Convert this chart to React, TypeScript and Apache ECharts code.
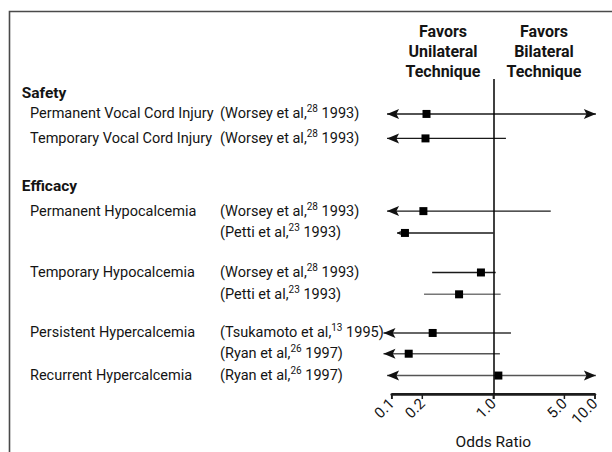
import React, { useEffect, useRef } from "react";
import * as echarts from "echarts";

// ---------- data ----------
const sectionHeaders = ["Safety", "Efficacy"];
const outcomes = [
  "Permanent Vocal Cord Injury",
  "Temporary Vocal Cord Injury",
  "Permanent Hypocalcemia",
  "",
  "Temporary Hypocalcemia",
  "",
  "Persistent Hypercalcemia",
  "",
  "Recurrent Hypercalcemia",
];
const studyAuthors = [
  "Worsey et al,",
  "Worsey et al,",
  "Worsey et al,",
  "Petti et al,",
  "Worsey et al,",
  "Petti et al,",
  "Tsukamoto et al,",
  "Ryan et al,",
  "Ryan et al,",
];
const studyRefs = ["28", "28", "28", "23", "28", "23", "13", "26", "26"];
const studyYears = ["1993", "1993", "1993", "1993", "1993", "1993", "1995", "1997", "1997"];
const oddsRatios = [0.22, 0.215, 0.205, 0.135, 0.755, 0.46, 0.253, 0.147, 1.12];
const ciLower = [0.09, 0.09, 0.09, 0.113, 0.25, 0.208, 0.083, 0.083, 0.09];
const ciUpper = [10.2, 1.33, 3.67, 1.0, 1.055, 1.18, 1.49, 1.16, 10.2];
const lowerArrow = ["full", "full", "full", "small", "", "", "full", "full", "full"];
const upperArrow = ["full", "", "", "", "", "", "", "", "full"];
const tickValues = [0.1, 0.2, 1, 5, 10];
const tickLabels = ["0.1", "0.2", "1.0", "5.0", "10.0"];
const favorsLeft = ["Favors", "Unilateral", "Technique"];
const favorsRight = ["Favors", "Bilateral", "Technique"];
const axisTitle = "Odds Ratio";

// ---------- layout / style ----------
const rowY = [0, 1.12, 4.45, 5.45, 7.26, 8.26, 10.03, 10.98, 11.98];
const headerY = [-0.95, 3.3];
const Y_MIN = -1.6;
const Y_MAX = 12.825;
const lineColors = ["#1a1a1a", "#1a1a1a", "#1a1a1a", "#1a1a1a", "#1a1a1a", "#777777", "#333333", "#555555", "#555555"];
const FONT = "Roboto, 'Liberation Sans', sans-serif";
const TEXT = "#141414";
const AXIS_COLOR = "#1c1c1c";

export default function App() {
  const ref = useRef<HTMLDivElement>(null);
  useEffect(() => {
    if (!ref.current) return;
    const chart = echarts.init(ref.current, undefined, { renderer: "svg" });
    const labelValues = [...headerY, ...rowY];

    const arrowHead = (tx: number, ty: number, dir: number, kind: string, color: string) => {
      const L = kind === "small" ? 4 : 12;
      const h = kind === "small" ? 4.5 : 10;
      return {
        type: "polygon",
        shape: {
          points: [
            [tx, ty],
            [tx + dir * L, ty - h / 2],
            [tx + dir * L * 0.78, ty],
            [tx + dir * L, ty + h / 2],
          ],
        },
        style: { fill: color },
      };
    };

    const option: any = {
      animation: false,
      textStyle: { fontFamily: FONT },
      grid: { left: 391.7, right: 17, top: 79, bottom: 58, outerBoundsMode: "none", containLabel: false },
      xAxis: {
        type: "log",
        position: "bottom",
        logBase: 10,
        min: 0.1,
        max: 10,
        name: axisTitle,
        nameLocation: "middle",
        nameGap: 34,
        nameTextStyle: { fontSize: 15.5, color: TEXT, fontFamily: FONT },
        axisLine: { show: true, onZero: false, lineStyle: { color: AXIS_COLOR, width: 2.5 } },
        axisTick: { show: true, length: 5, inside: false, lineStyle: { color: AXIS_COLOR, width: 1.5 } },
        minorTick: { show: false },
        splitLine: { show: false },
        axisLabel: {
          customValues: tickValues,
          rotate: 45,
          margin: 7,
          fontSize: 15,
          color: TEXT,
          fontFamily: FONT,
          formatter: (v: number) => {
            let best = 0;
            let bd = Infinity;
            tickValues.forEach((t, i) => {
              const d = Math.abs(Math.log10(t) - Math.log10(v));
              if (d < bd) { bd = d; best = i; }
            });
            return tickLabels[best];
          },
        },
      },
      yAxis: {
        type: "value",
        inverse: true,
        min: Y_MIN,
        max: Y_MAX,
        axisLine: { show: false },
        axisTick: { show: false },
        splitLine: { show: false },
        axisLabel: {
          customValues: labelValues,
          align: "left",
          margin: 370,
          color: TEXT,
          fontFamily: FONT,
          fontSize: 14.5,
          formatter: (v: number) => {
            let best = 0;
            let bd = Infinity;
            labelValues.forEach((lv, i) => {
              const d = Math.abs(lv - v);
              if (d < bd) { bd = d; best = i; }
            });
            if (best < headerY.length) return `{h|${sectionHeaders[best]}}`;
            const i = best - headerY.length;
            return `{i| }{n|${outcomes[i] || " "}}{c|(${studyAuthors[i]}}{s|${studyRefs[i]}}{c| ${studyYears[i]})}`;
          },
          rich: {
            h: { fontWeight: "bold", fontSize: 15.5, color: TEXT, fontFamily: FONT, lineHeight: 20 },
            i: { width: 8.3, fontSize: 14.5, lineHeight: 20 },
            n: { width: 190, fontSize: 14.5, color: TEXT, fontFamily: FONT, lineHeight: 20 },
            c: { fontSize: 14.5, color: TEXT, fontFamily: FONT, lineHeight: 20 },
            s: { fontSize: 10, color: TEXT, fontFamily: FONT, lineHeight: 12, verticalAlign: "top" },
          },
        },
      },
      graphic: [
        {
          type: "rect",
          silent: true,
          shape: { x: 9.5, y: 11.5, width: 700, height: 600 },
          style: { fill: "none", stroke: "#4a4a4a", lineWidth: 1.6 },
        },
        {
          type: "text",
          x: 443,
          y: 21,
          style: {
            text: favorsLeft.join("\n"),
            fontSize: 16,
            fontWeight: "bold",
            fontFamily: FONT,
            fill: TEXT,
            align: "center",
            textAlign: "center",
            verticalAlign: "top",
            textVerticalAlign: "top",
            lineHeight: 20,
          },
        },
        {
          type: "text",
          x: 544,
          y: 21,
          style: {
            text: favorsRight.join("\n"),
            fontSize: 16,
            fontWeight: "bold",
            fontFamily: FONT,
            fill: TEXT,
            align: "center",
            textAlign: "center",
            verticalAlign: "top",
            textVerticalAlign: "top",
            lineHeight: 20,
          },
        },
      ],
      series: [
        {
          type: "custom",
          clip: false,
          data: oddsRatios.map((or, i) => [or, ciLower[i], ciUpper[i], rowY[i]]),
          encode: { x: [0, 1, 2], y: 3 },
          renderItem: (params: any, api: any) => {
            const i = params.dataIndex;
            const y = api.value(3);
            const pMid = api.coord([api.value(0), y]);
            const pLo = api.coord([api.value(1), y]);
            const pHi = api.coord([api.value(2), y]);
            const color = lineColors[i];
            const children: any[] = [
              {
                type: "line",
                shape: { x1: pLo[0], y1: pLo[1], x2: pHi[0], y2: pHi[1] },
                style: { stroke: color, lineWidth: 1.4 },
              },
            ];
            if (lowerArrow[i]) children.push(arrowHead(pLo[0], pLo[1], 1, lowerArrow[i], "#111"));
            if (upperArrow[i]) children.push(arrowHead(pHi[0], pHi[1], -1, upperArrow[i], "#111"));
            children.push({
              type: "rect",
              shape: { x: pMid[0] - 4, y: pMid[1] - 4, width: 8, height: 8 },
              style: { fill: "#000" },
            });
            if (i === 0) {
              // odds-ratio baseline and ticks at every labelled value
              const a = api.coord([tickValues[0], Y_MAX]);
              const b = api.coord([tickValues[tickValues.length - 1], Y_MAX]);
              children.push({
                type: "line",
                shape: { x1: a[0], y1: a[1], x2: b[0], y2: b[1] },
                style: { stroke: AXIS_COLOR, lineWidth: 2 },
              });
              tickValues.forEach((t) => {
                const p = api.coord([t, Y_MAX]);
                children.push({
                  type: "line",
                  shape: { x1: p[0], y1: p[1], x2: p[0], y2: p[1] + 5 },
                  style: { stroke: AXIS_COLOR, lineWidth: 1.5 },
                });
              });
            }
            return { type: "group", children };
          },
          markLine: {
            silent: true,
            symbol: ["none", "none"],
            label: { show: false },
            lineStyle: { color: "#000", width: 1.5, type: "solid" },
            data: [{ xAxis: 1 }],
          },
          z: 3,
        },
      ],
    };
    chart.setOption(option);
    return () => chart.dispose();
  }, []);
  return (
    <div
      ref={ref}
      style={{ position: "fixed", left: 0, top: 0, width: 612, height: 452, background: "#fff" }}
    />
  );
}
